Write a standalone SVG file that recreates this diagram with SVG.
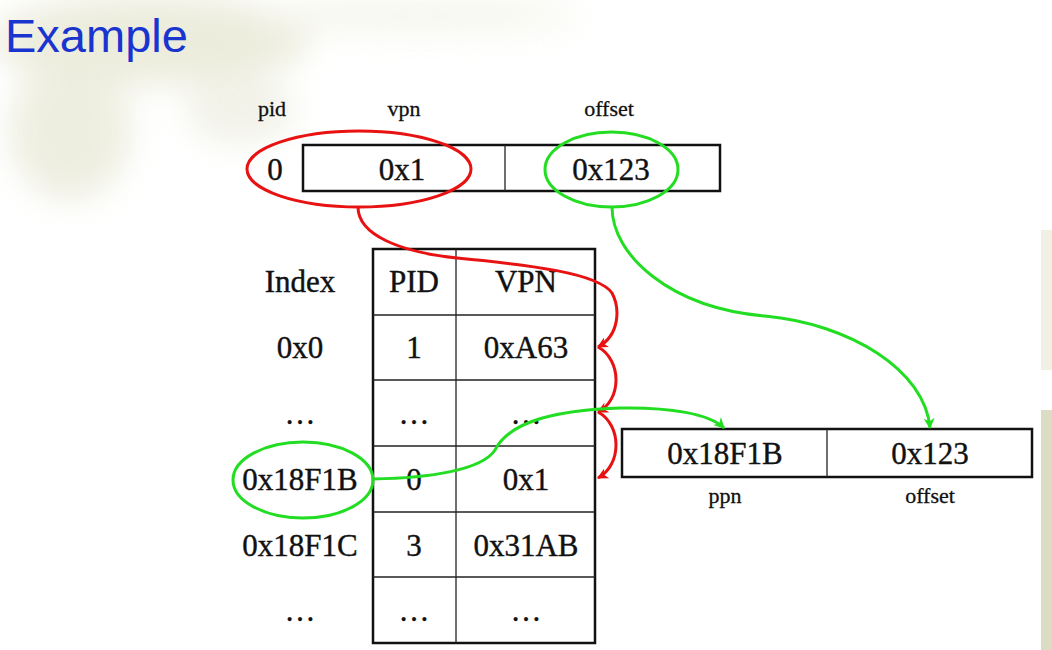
<svg xmlns="http://www.w3.org/2000/svg" width="1052" height="650" viewBox="0 0 1052 650">
<style>
.t{font-family:"Liberation Serif","Times New Roman",serif;font-size:31px;fill:#111;text-anchor:middle;stroke:#111;stroke-width:0.4}
.lbl{font-family:"Liberation Serif","Times New Roman",serif;font-size:22px;fill:#111;text-anchor:middle;stroke:#111;stroke-width:0.3}
.box{fill:#fff;stroke:#111;stroke-width:2.5}
.thin{stroke:#222;stroke-width:1.3;fill:none}
.red{fill:none;stroke:#e81212;stroke-width:3}
.green{fill:none;stroke:#22dd22;stroke-width:3}
</style>
<defs>
<filter id="blur" x="-50%" y="-50%" width="200%" height="200%"><feGaussianBlur stdDeviation="16"/></filter>
<marker id="ar" viewBox="0 0 10 10" refX="9" refY="5" markerWidth="11" markerHeight="11" markerUnits="userSpaceOnUse" orient="auto"><path d="M0,0 L10,5 L0,10 L3,5 Z" fill="#e81212"/></marker>
<marker id="ag" viewBox="0 0 10 10" refX="9" refY="5" markerWidth="11" markerHeight="11" markerUnits="userSpaceOnUse" orient="auto"><path d="M0,0 L10,5 L0,10 L3,5 Z" fill="#22dd22"/></marker>
</defs>
<rect width="1052" height="650" fill="#fff"/>
<g id="background" filter="url(#blur)" opacity="0.75">
<ellipse cx="150" cy="40" rx="160" ry="45" fill="#e6e6d2"/>
<ellipse cx="70" cy="130" rx="60" ry="70" fill="#e8e8d6"/>
<ellipse cx="240" cy="110" rx="55" ry="35" fill="#eeeee2"/>
<ellipse cx="420" cy="15" rx="160" ry="20" fill="#f4f4ea"/>
</g>
<rect x="1041" y="230" width="11" height="140" fill="#f0f0e4"/>
<rect x="1041" y="410" width="11" height="240" fill="#dcdcc4"/>
<text x="5" y="52" font-family="'Liberation Sans',Arial,sans-serif" font-size="47" fill="#1a34d0">Example</text>

<g id="virtual-address">
<text class="lbl" x="272" y="116">pid</text>
<text class="lbl" x="404" y="116">vpn</text>
<text class="lbl" x="609" y="116">offset</text>
<rect class="box" x="303" y="145" width="417" height="46"/>
<line class="thin" x1="505" y1="145" x2="505" y2="191"/>
<text class="t" x="275" y="180">0</text>
<text class="t" x="402" y="180">0x1</text>
<text class="t" x="611" y="180">0x123</text>
</g>

<g id="page-table">
<text class="t" x="300" y="292">Index</text>
<text class="t" x="300" y="358">0x0</text>
<text class="t" x="300" y="424">…</text>
<text class="t" x="300" y="490">0x18F1B</text>
<text class="t" x="300" y="556">0x18F1C</text>
<text class="t" x="300" y="621">…</text>
<rect x="373" y="249" width="222" height="394" fill="#fff" stroke="#111" stroke-width="2.5"/>
<line class="thin" x1="456" y1="249" x2="456" y2="643"/>
<line class="thin" x1="373" y1="315" x2="595" y2="315"/>
<line class="thin" x1="373" y1="380" x2="595" y2="380"/>
<line class="thin" x1="373" y1="446" x2="595" y2="446"/>
<line class="thin" x1="373" y1="512" x2="595" y2="512"/>
<line class="thin" x1="373" y1="577" x2="595" y2="577"/>
<text class="t" x="414" y="292">PID</text>
<text class="t" x="526" y="292">VPN</text>
<text class="t" x="414" y="358">1</text>
<text class="t" x="526" y="358">0xA63</text>
<text class="t" x="414" y="424">…</text>
<text class="t" x="526" y="424">…</text>
<text class="t" x="414" y="490">0</text>
<text class="t" x="526" y="490">0x1</text>
<text class="t" x="414" y="556">3</text>
<text class="t" x="526" y="556">0x31AB</text>
<text class="t" x="414" y="621">…</text>
<text class="t" x="526" y="621">…</text>
</g>

<g id="physical-address">
<rect class="box" x="622" y="429" width="410" height="48"/>
<line class="thin" x1="827" y1="429" x2="827" y2="477"/>
<text class="t" x="725" y="464">0x18F1B</text>
<text class="t" x="930" y="464">0x123</text>
<text class="lbl" x="725" y="503">ppn</text>
<text class="lbl" x="930" y="503">offset</text>
</g>

<g id="connectors">
<ellipse class="red" cx="359" cy="169" rx="112" ry="38"/>
<ellipse class="green" cx="611.5" cy="169.5" rx="66.5" ry="37.5"/>
<ellipse class="green" cx="303" cy="480" rx="70" ry="38"/>
<path class="red" marker-end="url(#ar)" d="M358,207 C358,235 400,252 457,258 C530,265 598,273 612,293 C620,308 620,335 598,347"/>
<path class="red" marker-end="url(#ar)" d="M598,347 C622,360 622,400 598,412"/>
<path class="red" marker-end="url(#ar)" d="M598,412 C622,425 622,465 598,478"/>
<path class="green" marker-end="url(#ag)" d="M612,207 C612,255 670,308 765,316 C850,324 925,370 930,428"/>
<path class="green" marker-end="url(#ag)" d="M373,479 C430,478 482,470 495,450 C510,420 560,410 620,408 C670,407 710,414 724,428"/>
</g>
</svg>
